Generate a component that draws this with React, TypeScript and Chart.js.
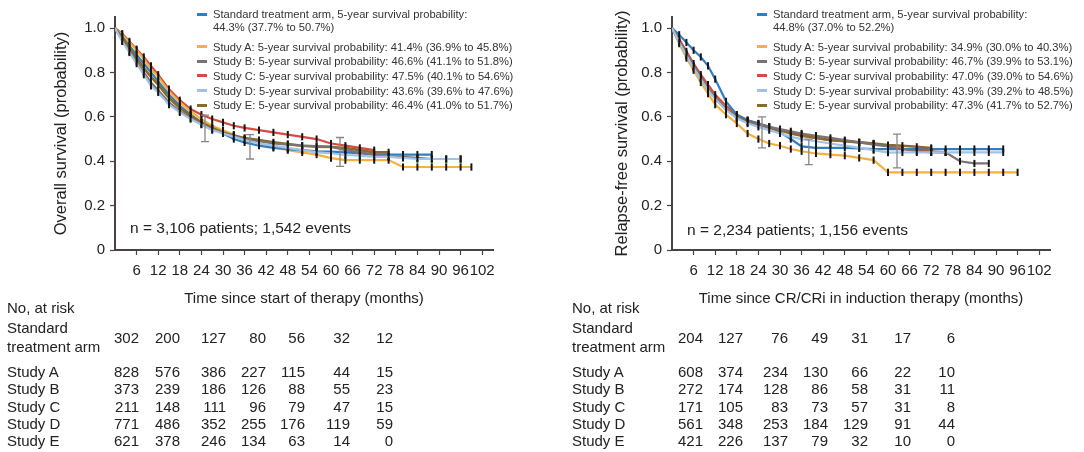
import React, { useEffect, useRef } from 'react';
import { Chart, registerables } from 'chart.js';
Chart.register(...registerables);

// ---------- DATA ----------
const monthGrid = [0, 2, 4, 6, 8, 10, 12, 15, 18, 21, 24, 27, 30, 33, 36, 40, 44, 48, 52, 56, 60, 64, 68, 72, 76, 80, 84, 88, 92, 96, 99];
const xTickValues = [6, 12, 18, 24, 30, 36, 42, 48, 54, 60, 66, 72, 78, 84, 90, 96, 102];
const yTickValues = [0, 0.2, 0.4, 0.6, 0.8, 1.0];

const seriesNames = ['Standard treatment arm', 'Study A', 'Study B', 'Study C', 'Study D', 'Study E'];
const seriesColors = ['#2c7fc4', '#f5b13d', '#7d7173', '#d84a3f', '#a3c3e4', '#8a6a28'];

// Overall survival (left)
const osStandard = [1, .96, .92, .88, .84, .80, .76, .70, .65, .61, .575, .55, .525, .50, .485, .47, .46, .455, .45, .445, .443, .44, .435, .43, .43, .43, .43, .43, null, null, null];
const osA = [1, .97, .935, .90, .86, .815, .78, .715, .665, .625, .59, .56, .54, .52, .50, .48, .465, .45, .44, .43, .414, .405, .405, .405, .405, .374, .374, .374, .374, .374, .374];
const osB = [1, .945, .895, .85, .80, .755, .72, .665, .625, .595, .567, .545, .528, .513, .50, .49, .48, .475, .47, .468, .466, .45, .44, .43, .42, .42, .415, .41, .41, .41, null];
const osC = [1, .975, .94, .905, .87, .83, .79, .725, .675, .635, .61, .59, .575, .56, .55, .54, .53, .52, .51, .50, .48, .47, .46, .45, null, null, null, null, null, null, null];
const osD = [1, .94, .89, .84, .79, .74, .71, .655, .62, .59, .565, .54, .525, .51, .495, .48, .47, .46, .45, .44, .436, .428, .425, .42, .42, .415, .41, .41, .41, .41, null];
const osE = [1, .955, .91, .865, .82, .78, .745, .685, .64, .605, .575, .55, .53, .515, .505, .495, .485, .478, .47, .465, .464, .46, .45, .44, .44, null, null, null, null, null, null];

// Relapse-free survival (right)
const rfsStandard = [1, .97, .935, .90, .87, .83, .77, .67, .61, .585, .57, .555, .53, .50, .467, .46, .46, .46, .458, .455, .455, .455, .455, .455, .455, .455, .455, .455, .455, null, null];
const rfsA = [1, .93, .865, .81, .755, .705, .655, .61, .57, .525, .50, .48, .47, .455, .445, .435, .43, .425, .415, .405, .35, .35, .35, .35, .35, .35, .35, .35, .35, .35, null];
const rfsB = [1, .94, .885, .83, .78, .73, .685, .635, .595, .575, .565, .555, .545, .535, .525, .515, .505, .495, .485, .475, .467, .455, .445, .44, .44, .40, .39, .39, null, null, null];
const rfsC = [1, .95, .895, .84, .79, .745, .70, .65, .61, .585, .57, .555, .54, .53, .52, .505, .495, .49, .485, .48, .47, .455, .45, .445, .44, null, null, null, null, null, null];
const rfsD = [1, .935, .875, .82, .77, .72, .68, .63, .595, .57, .555, .54, .525, .51, .50, .49, .48, .47, .46, .45, .439, .44, .44, .44, .44, .44, .44, .44, .44, null, null];
const rfsE = [1, .94, .88, .825, .775, .725, .685, .635, .60, .58, .565, .55, .54, .525, .515, .505, .495, .49, .485, .48, .473, .47, .465, .46, null, null, null, null, null, null, null];

// Confidence-interval bars (standard arm)
const osErrMonths = [25, 37.5, 62.5];
const osErrLow = [0.488, 0.41, 0.377];
const osErrHigh = [0.608, 0.52, 0.507];
const rfsErrMonths = [25, 38, 62.5];
const rfsErrLow = [0.46, 0.385, 0.37];
const rfsErrHigh = [0.60, 0.50, 0.522];

// Legend texts
const osLegendFirst = ['Standard treatment arm, 5-year survival probability:', '44.3% (37.7% to 50.7%)'];
const osLegendStudies = [
  'Study A: 5-year survival probability: 41.4% (36.9% to 45.8%)',
  'Study B: 5-year survival probability: 46.6% (41.1% to 51.8%)',
  'Study C: 5-year survival probability: 47.5% (40.1% to 54.6%)',
  'Study D: 5-year survival probability: 43.6% (39.6% to 47.6%)',
  'Study E: 5-year survival probability: 46.4% (41.0% to 51.7%)',
];
const rfsLegendFirst = ['Standard treatment arm, 5-year survival probability:', '44.8% (37.0% to 52.2%)'];
const rfsLegendStudies = [
  'Study A: 5-year survival probability: 34.9% (30.0% to 40.3%)',
  'Study B: 5-year survival probability: 46.7% (39.9% to 53.1%)',
  'Study C: 5-year survival probability: 47.0% (39.0% to 54.6%)',
  'Study D: 5-year survival probability: 43.9% (39.2% to 48.5%)',
  'Study E: 5-year survival probability: 47.3% (41.7% to 52.7%)',
];

// Numbers at risk
const riskTimes = [0, 12, 24, 36, 48, 60, 72];
const osRiskStandard = [302, 200, 127, 80, 56, 32, 12];
const osRiskA = [828, 576, 386, 227, 115, 44, 15];
const osRiskB = [373, 239, 186, 126, 88, 55, 23];
const osRiskC = [211, 148, 111, 96, 79, 47, 15];
const osRiskD = [771, 486, 352, 255, 176, 119, 59];
const osRiskE = [621, 378, 246, 134, 63, 14, 0];
const rfsRiskStandard = [204, 127, 76, 49, 31, 17, 6];
const rfsRiskA = [608, 374, 234, 130, 66, 22, 10];
const rfsRiskB = [272, 174, 128, 86, 58, 31, 11];
const rfsRiskC = [171, 105, 83, 73, 57, 31, 8];
const rfsRiskD = [561, 348, 253, 184, 129, 91, 44];
const rfsRiskE = [421, 226, 137, 79, 32, 10, 0];

// ---------- LAYOUT / STYLE ----------
const FONT = "'Liberation Sans', Arial, Helvetica, sans-serif";
const TEXT = '#222';
const AXIS = '#4a4242';

const errorBarPlugin = {
  id: 'errorBars',
  afterDatasetsDraw(chart: any, _args: any, opts: any) {
    const { ctx, scales } = chart;
    const x = scales.x, y = scales.y;
    ctx.save();
    ctx.strokeStyle = opts.color || '#888';
    ctx.lineWidth = 1.3;
    (opts.months || []).forEach((m: number, i: number) => {
      const px = x.getPixelForValue(m);
      const y1 = y.getPixelForValue(opts.low[i]);
      const y2 = y.getPixelForValue(opts.high[i]);
      ctx.beginPath();
      ctx.moveTo(px, y1); ctx.lineTo(px, y2);
      ctx.moveTo(px - 4, y1); ctx.lineTo(px + 4, y1);
      ctx.moveTo(px - 4, y2); ctx.lineTo(px + 4, y2);
      ctx.stroke();
    });
    ctx.restore();
  },
};

type PanelProps = {
  left: number; width: number; axisX: number; plotRight: number; titleX: number;
  yTitle: string; xTitle: string; series: (number | null)[][];
  errMonths: number[]; errLow: number[]; errHigh: number[];
  legendFirst: string[]; legendStudies: string[]; legendX: number;
  nText: string; nX: number; nY: number;
  risk: number[][]; riskLabelX: number; riskCols: number[];
};

const CANVAS_H = 310;
const PLOT_BOTTOM = 250;
const PLOT_TOP = 17;

function Panel(p: PanelProps) {
  const ref = useRef<HTMLCanvasElement | null>(null);
  useEffect(() => {
    if (!ref.current) return;
    const drawOrder = [4, 2, 5, 0, 1, 3];
    const datasets = p.series.map((vals, si) => ({
      label: seriesNames[si],
      data: monthGrid.map((m, i) => ({ x: m, y: vals[i] })).filter((pt) => pt.y !== null),
      borderColor: seriesColors[si],
      backgroundColor: seriesColors[si],
      borderWidth: si === 5 ? 2.6 : 2.2,
      fill: false,
      tension: 0,
      order: drawOrder.indexOf(si),
      pointStyle: 'line',
      rotation: 90,
      pointRadius: (c: any) => (c.dataIndex === 0 ? 0 : 3.6),
      pointBorderColor: '#151515',
      pointBackgroundColor: '#151515',
      pointBorderWidth: 2,
    }));
    const chart = new Chart(ref.current, {
      type: 'line',
      data: { datasets },
      plugins: [errorBarPlugin as any],
      options: {
        animation: false,
        responsive: false,
        events: [],
        layout: { padding: { top: PLOT_TOP, right: p.width - (p.plotRight - p.left), left: 0, bottom: 0 } },
        plugins: {
          legend: { display: false },
          tooltip: { enabled: false },
          errorBars: { months: p.errMonths, low: p.errLow, high: p.errHigh, color: '#8a8585' },
        } as any,
        scales: {
          x: {
            type: 'linear', min: 0, max: 105,
            afterBuildTicks: (s: any) => { s.ticks = xTickValues.map((v) => ({ value: v })); },
            afterFit: (s: any) => { s.height = CANVAS_H - PLOT_BOTTOM; },
            ticks: { font: { size: 15, family: FONT }, color: TEXT, padding: 7, maxRotation: 0, autoSkip: false },
            grid: { drawOnChartArea: false, tickLength: 5, tickColor: AXIS, tickWidth: 1.2 },
            border: { color: AXIS, width: 2 },
            title: { display: true, text: p.xTitle, font: { size: 15, family: FONT }, color: TEXT, padding: { top: 0, bottom: 2 } },
          },
          y: {
            type: 'linear', min: 0, max: 1.05,
            afterBuildTicks: (s: any) => { s.ticks = yTickValues.map((v) => ({ value: v })); },
            afterFit: (s: any) => { s.width = p.axisX - p.left; },
            ticks: {
              font: { size: 15, family: FONT }, color: TEXT, padding: 5,
              callback: (v: any) => (Number(v) === 0 ? '0' : Number(v).toFixed(1)),
            },
            grid: { drawOnChartArea: false, tickLength: 5, tickColor: AXIS, tickWidth: 1.2 },
            border: { color: AXIS, width: 2 },
            title: { display: true, text: p.yTitle, font: { size: 16.5, family: FONT }, color: TEXT, padding: { top: p.titleX - p.left - 9.9, bottom: 0 } },
          },
        },
      } as any,
    });
    return () => chart.destroy();
  }, []);

  const legendRows = [p.legendFirst[0], ...p.legendStudies];
  const legendY = [14, 46.5, 61.2, 75.9, 90.6, 105.3];
  const riskRowY = [338, 372, 389.3, 406.6, 423.9, 441.2];
  const rowLabels = ['', 'Study A', 'Study B', 'Study C', 'Study D', 'Study E'];
  const txt = (extra: any) => ({ position: 'absolute', whiteSpace: 'nowrap', fontFamily: FONT, color: TEXT, ...extra });

  return (
    <>
      <canvas ref={ref} width={p.width} height={CANVAS_H}
        style={{ position: 'absolute', left: p.left, top: 0, width: p.width, height: CANVAS_H }} />
      {legendRows.map((t, i) => (
        <React.Fragment key={'lg' + i}>
          <div style={{ position: 'absolute', left: p.legendX, top: legendY[i] - 1.5, width: 10, height: 3, background: seriesColors[i] }} />
          <div style={txt({ left: p.legendX + 16, top: legendY[i] - 7, fontSize: 11.2, lineHeight: '14px', color: '#333' })}>{t}</div>
        </React.Fragment>
      ))}
      <div style={txt({ left: p.legendX + 16, top: 27 - 7, fontSize: 11.2, lineHeight: '14px', color: '#333' })}>{p.legendFirst[1]}</div>
      <div style={txt({ left: p.nX, top: p.nY - 9, fontSize: 15.5, lineHeight: '18px' })}>{p.nText}</div>
      <div style={txt({ left: p.riskLabelX, top: 308 - 9, fontSize: 15, lineHeight: '18px' })}>No, at risk</div>
      <div style={txt({ left: p.riskLabelX, top: 328 - 9, fontSize: 15, lineHeight: '18px' })}>Standard</div>
      <div style={txt({ left: p.riskLabelX, top: 347 - 9, fontSize: 15, lineHeight: '18px' })}>treatment arm</div>
      {rowLabels.map((lab, r) => lab ? (
        <div key={'rl' + r} style={txt({ left: p.riskLabelX, top: riskRowY[r] - 9, fontSize: 15, lineHeight: '18px' })}>{lab}</div>
      ) : null)}
      {p.risk.map((row, r) => row.map((v, c) => (
        <div key={'rv' + r + '_' + c} data-time={riskTimes[c]}
          style={txt({ left: p.riskCols[c] - 40, width: 40, textAlign: 'right', top: riskRowY[r] - 9, fontSize: 15, lineHeight: '18px' })}>{v}</div>
      )))}
    </>
  );
}

export default function App() {
  return (
    <div style={{ position: 'absolute', left: 0, top: 0, width: 1084, height: 452, background: '#fff', overflow: 'hidden' }}>
      <Panel
        left={0} width={540} axisX={115} plotRight={493} titleX={61}
        yTitle="Overall survival (probability)" xTitle="Time since start of therapy (months)"
        series={[osStandard, osA, osB, osC, osD, osE]}
        errMonths={osErrMonths} errLow={osErrLow} errHigh={osErrHigh}
        legendFirst={osLegendFirst} legendStudies={osLegendStudies} legendX={197}
        nText="n = 3,106 patients; 1,542 events" nX={130} nY={228}
        risk={[osRiskStandard, osRiskA, osRiskB, osRiskC, osRiskD, osRiskE]}
        riskLabelX={7} riskCols={[139, 180, 226, 266, 305, 350, 393]}
      />
      <Panel
        left={540} width={544} axisX={672} plotRight={1050} titleX={622}
        yTitle="Relapse-free survival (probability)" xTitle="Time since CR/CRi in induction therapy (months)"
        series={[rfsStandard, rfsA, rfsB, rfsC, rfsD, rfsE]}
        errMonths={rfsErrMonths} errLow={rfsErrLow} errHigh={rfsErrHigh}
        legendFirst={rfsLegendFirst} legendStudies={rfsLegendStudies} legendX={757}
        nText="n = 2,234 patients; 1,156 events" nX={687} nY={230}
        risk={[rfsRiskStandard, rfsRiskA, rfsRiskB, rfsRiskC, rfsRiskD, rfsRiskE]}
        riskLabelX={572} riskCols={[703, 743, 788, 828, 868, 911, 955]}
      />
    </div>
  );
}
